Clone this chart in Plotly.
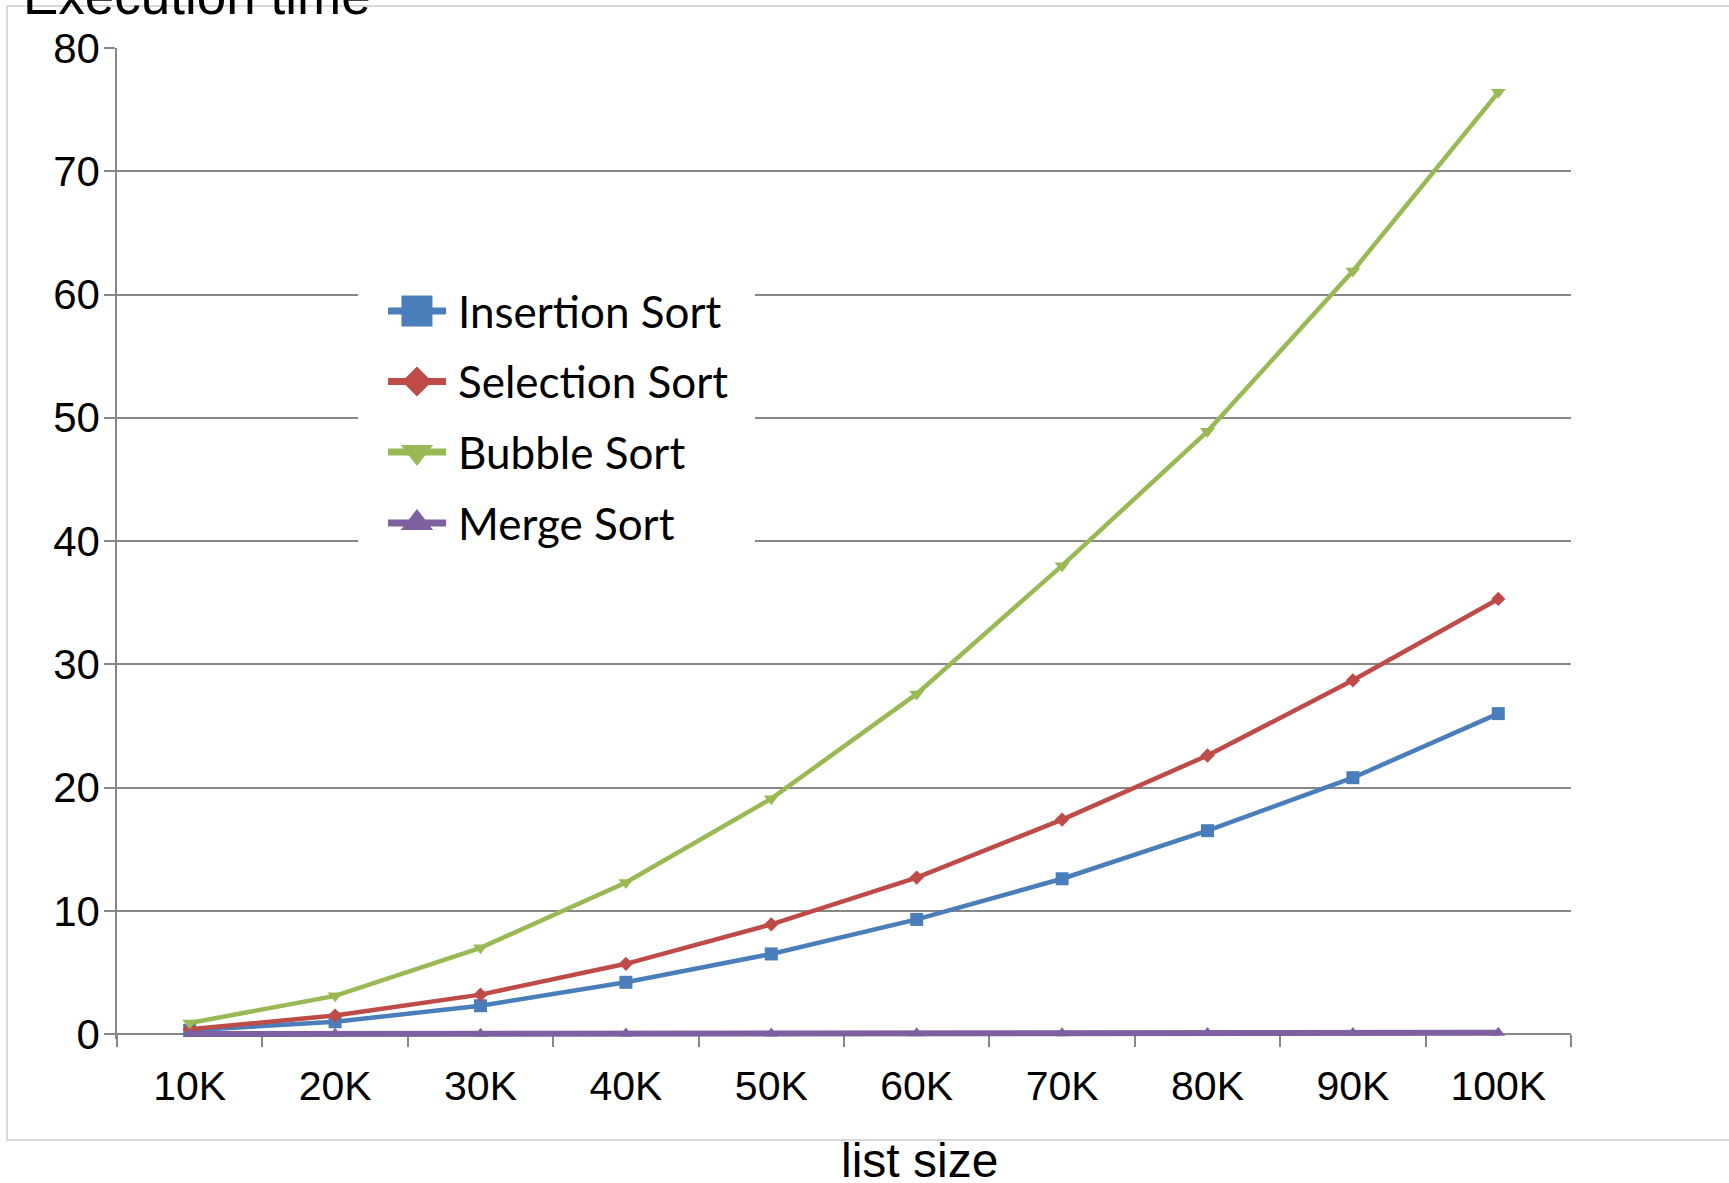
import plotly.graph_objects as go

# Data: execution time (s) of four sorting algorithms vs list size
list_sizes = ["10K", "20K", "30K", "40K", "50K", "60K", "70K", "80K", "90K", "100K"]
insertion_sort = [0.3, 1.0, 2.3, 4.2, 6.5, 9.3, 12.6, 16.5, 20.8, 26.0]
selection_sort = [0.4, 1.5, 3.2, 5.7, 8.9, 12.7, 17.4, 22.6, 28.7, 35.3]
bubble_sort = [0.9, 3.1, 7.0, 12.3, 19.1, 27.6, 38.0, 48.9, 61.9, 76.4]
merge_sort = [0.01, 0.02, 0.03, 0.04, 0.05, 0.06, 0.07, 0.08, 0.09, 0.10]

series_names = ["Insertion Sort", "Selection Sort", "Bubble Sort", "Merge Sort"]
series_values = [insertion_sort, selection_sort, bubble_sort, merge_sort]
colors = ["#4A7EBB", "#BE4B48", "#98B954", "#7D60A0"]
symbols = ["square", "diamond", "triangle-down", "triangle-up"]
plot_sizes = [13, 11, 13, 12]
line_widths = [4.5, 4.5, 4.5, 6]
key_sizes = [31, 23, 28, 28]

AX_FONT = "Liberation Sans, Arial, sans-serif"
GRID = "#878787"

# a small margin below zero keeps the Merge Sort line from being clipped
Y_MIN, Y_MAX = -0.4, 80

fig = go.Figure()

for name, vals, col, sym, ms, lw in zip(series_names, series_values, colors,
                                        symbols, plot_sizes, line_widths):
    fig.add_trace(go.Scatter(
        x=list_sizes, y=vals, name=name, mode="lines+markers",
        line=dict(color=col, width=lw),
        marker=dict(symbol=sym, size=ms, color=col),
        showlegend=False, cliponaxis=False,
    ))

# Legend key, drawn on an overlay axis spanning the plot area (0..1)
key_x0, key_xc, key_x1, text_x = 0.1864, 0.2063, 0.2263, 0.2330
key_rows = [0.7346, 0.6635, 0.5923, 0.5207]
box_x = [0.1658, 0.4388, 0.4388, 0.1658, 0.1658]
box_y = [0.7659, 0.7659, 0.4884, 0.4884, 0.7659]

fig.add_trace(go.Scatter(
    x=box_x, y=box_y, xaxis="x2", yaxis="y2", mode="lines",
    fill="toself", fillcolor="white", line=dict(width=0, color="white"),
    showlegend=False, hoverinfo="skip",
))
for name, col, sym, ks, ry in zip(series_names, colors, symbols, key_sizes, key_rows):
    fig.add_trace(go.Scatter(
        x=[key_x0, key_x1], y=[ry, ry], xaxis="x2", yaxis="y2", mode="lines",
        line=dict(color=col, width=7), showlegend=False, hoverinfo="skip",
    ))
    fig.add_trace(go.Scatter(
        x=[key_xc], y=[ry], xaxis="x2", yaxis="y2", mode="markers",
        marker=dict(symbol=sym, size=ks, color=col),
        showlegend=False, hoverinfo="skip", cliponaxis=False,
    ))
    fig.add_annotation(
        x=text_x, y=ry, xref="x2", yref="y2", text=name, showarrow=False,
        xanchor="left", yanchor="middle",
        font=dict(family="Lato, Carlito, sans-serif", size=44, color="black"),
    )

# Outer chart border
fig.add_shape(
    type="rect", xref="paper", yref="paper",
    x0=-0.0757, x1=1.2, y0=-0.1019, y1=1.0424,
    line=dict(color="#D9D9D9", width=2), fillcolor="rgba(0,0,0,0)", layer="below",
)

# Axis titles
fig.add_annotation(
    x=-0.066, y=1.0525, xref="paper", yref="paper", text="Execution time",
    showarrow=False, xanchor="left", yanchor="middle",
    font=dict(family=AX_FONT, size=53, color="black"),
)
fig.add_annotation(
    x=0.5516, y=-0.1221, xref="paper", yref="paper", text="list size",
    showarrow=False, xanchor="center", yanchor="middle",
    font=dict(family=AX_FONT, size=48, color="black"),
)

fig.update_layout(
    width=1729, height=1183,
    margin=dict(l=117, r=158, t=48, b=144),
    paper_bgcolor="white", plot_bgcolor="white",
    xaxis=dict(
        type="category", range=[-0.5, 9.5], tickson="boundaries",
        anchor="free", position=(0 - Y_MIN) / (Y_MAX - Y_MIN),
        ticks="outside", ticklen=12, tickwidth=1.5, tickcolor=GRID,
        showline=True, linecolor=GRID, linewidth=1.5, showgrid=False,
        layer="below traces",
        tickfont=dict(family=AX_FONT, size=41, color="black"),
        ticklabelstandoff=16,
    ),
    yaxis=dict(
        range=[Y_MIN, Y_MAX], tick0=0, dtick=10, ticks="outside", ticklen=11,
        tickwidth=1.5, tickcolor=GRID, showline=True, linecolor=GRID,
        linewidth=1.5, showgrid=True, gridcolor=GRID, gridwidth=1.5,
        zeroline=False, layer="below traces",
        tickfont=dict(family=AX_FONT, size=42, color="black"),
        ticklabelstandoff=-4,
    ),
    xaxis2=dict(overlaying="x", range=[0, 1], visible=False),
    yaxis2=dict(overlaying="y", range=[0, 1], visible=False),
    showlegend=False,
)

fig.write_html("out.html")
